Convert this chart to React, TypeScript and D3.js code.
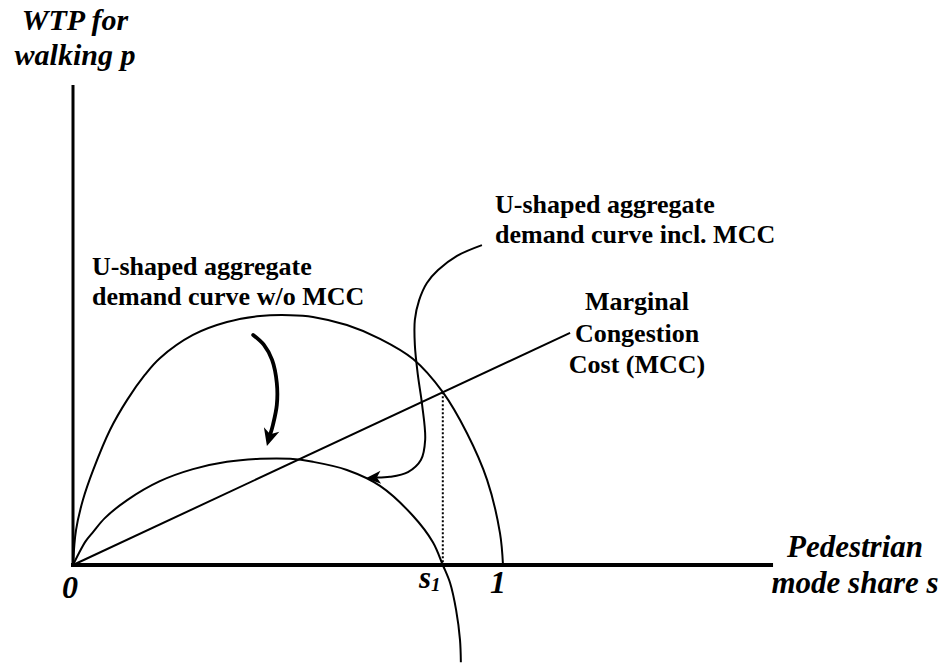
import React from "react";
import * as d3 from "d3";

// ---- Data (share s, WTP p) ----
const outerCurve: [number, number][] = [
  [0, 0], [0.007, 0.081], [0.023, 0.151], [0.047, 0.221], [0.086, 0.314],
  [0.126, 0.384], [0.167, 0.442], [0.202, 0.481], [0.279, 0.535], [0.358, 0.565],
  [0.435, 0.579], [0.505, 0.581], [0.558, 0.577], [0.637, 0.558], [0.714, 0.526],
  [0.791, 0.479], [0.86, 0.402], [0.916, 0.307], [0.963, 0.198], [0.993, 0.074],
  [1.0, 0],
];
const innerCurve: [number, number][] = [
  [0, 0], [0.014, 0.028], [0.03, 0.056], [0.047, 0.077], [0.074, 0.109],
  [0.126, 0.151], [0.202, 0.195], [0.279, 0.223], [0.358, 0.24], [0.435, 0.247],
  [0.505, 0.247], [0.558, 0.24], [0.637, 0.221], [0.714, 0.184], [0.791, 0.114],
  [0.837, 0.053], [0.86, 0], [0.877, -0.042], [0.891, -0.105], [0.9, -0.174],
  [0.902, -0.226],
];
const mccLine: [number, number][] = [[0, 0], [1.156, 0.54]];
const s1Value = 0.86;
const s1Wtp = 0.402;
const thickArrow: [number, number][] = [
  [0.419, 0.535], [0.444, 0.512], [0.463, 0.477], [0.474, 0.423],
  [0.474, 0.372], [0.465, 0.326], [0.451, 0.277],
];
const thinArrow: [number, number][] = [
  [0.951, 0.744], [0.893, 0.719], [0.849, 0.686], [0.823, 0.656], [0.805, 0.616],
  [0.795, 0.57], [0.795, 0.512], [0.802, 0.442], [0.812, 0.372], [0.819, 0.291],
  [0.809, 0.244], [0.779, 0.216], [0.737, 0.205], [0.681, 0.202],
];
const yAxisLabel = ["WTP for", "walking p"];
const xAxisLabel = ["Pedestrian", "mode share s"];
const labelWithout = ["U-shaped aggregate", "demand curve w/o MCC"];
const labelIncl = ["U-shaped aggregate", "demand curve incl. MCC"];
const labelMcc = ["Marginal", "Congestion", "Cost (MCC)"];

const W = 946, H = 669;
const x = d3.scaleLinear().domain([0, 1]).range([73, 503]);
const y = d3.scaleLinear().domain([0, 1]).range([565, 135]);

const serif = "'Liberation Serif', 'Times New Roman', serif";

function headAndPath(pts: [number, number][], len: number, halfW: number, notch: number) {
  const px = pts.map(([s, p]) => [x(s), y(p)] as [number, number]);
  const tip = px[px.length - 1];
  const prev = px[px.length - 2];
  const dx = tip[0] - prev[0], dy = tip[1] - prev[1];
  const L = Math.hypot(dx, dy);
  const ux = dx / L, uy = dy / L;
  const nx = -uy, ny = ux;
  const bx = tip[0] - ux * len, by = tip[1] - uy * len;
  const left = [bx + nx * halfW, by + ny * halfW];
  const right = [bx - nx * halfW, by - ny * halfW];
  const nt = [tip[0] - ux * (len - notch), tip[1] - uy * (len - notch)] as [number, number];
  const shaft = [...px.slice(0, -1), nt];
  const path = d3.line().curve(d3.curveCatmullRom.alpha(0.5))(shaft) || "";
  const poly = [tip, left, nt, right].map((q) => q.join(",")).join(" ");
  return { path, poly };
}

export default function App() {
  const curve = d3.line<[number, number]>()
    .x((d) => x(d[0]))
    .y((d) => y(d[1]))
    .curve(d3.curveCatmullRom.alpha(0.5));
  const straight = d3.line<[number, number]>().x((d) => x(d[0])).y((d) => y(d[1]));

  const thick = headAndPath(thickArrow, 17, 8, 5);
  const thin = headAndPath(thinArrow, 15, 6.5, 4);

  const x0 = x(0), y0 = y(0);
  const xEnd = x(1.628);
  const yTop = y(1.116);

  return (
    <svg width={W} height={H} style={{ position: "absolute", left: 0, top: 0, background: "#fff" }}>
      <rect width={W} height={H} fill="#fff" />
      {/* axes */}
      <line x1={x0} y1={yTop} x2={x0} y2={y0 + 2} stroke="#000" strokeWidth={3} />
      <line x1={x0 - 2} y1={y0} x2={xEnd} y2={y0} stroke="#000" strokeWidth={4} />

      {/* curves */}
      <path d={curve(outerCurve) || ""} fill="none" stroke="#000" strokeWidth={2} />
      <path d={curve(innerCurve) || ""} fill="none" stroke="#000" strokeWidth={2} />
      <path d={straight(mccLine) || ""} fill="none" stroke="#000" strokeWidth={2} />
      <line x1={x(s1Value)} y1={y(s1Wtp)} x2={x(s1Value)} y2={y0} stroke="#000" strokeWidth={2} strokeDasharray="2,2" />

      {/* arrows */}
      <path d={thick.path} fill="none" stroke="#000" strokeWidth={3.8} strokeLinecap="round" />
      <polygon points={thick.poly} fill="#000" />
      <path d={thin.path} fill="none" stroke="#000" strokeWidth={2} />
      <polygon points={thin.poly} fill="#000" />

      {/* axis labels */}
      <g fontFamily={serif} fontWeight="bold" fontStyle="italic" fontSize={30} textAnchor="middle">
        <text x={75} y={30}>{yAxisLabel[0]}</text>
        <text x={75} y={65}>{yAxisLabel[1]}</text>
      </g>
      <g fontFamily={serif} fontWeight="bold" fontStyle="italic" fontSize={31} textAnchor="middle">
        <text x={855} y={557}>{xAxisLabel[0]}</text>
        <text x={855} y={593}>{xAxisLabel[1]}</text>
      </g>
      <g fontFamily={serif} fontWeight="bold" fontStyle="italic" fontSize={32} textAnchor="middle">
        <text x={70} y={598}>0</text>
        <text x={498} y={593}>1</text>
      </g>
      <text x={419} y={588} fontFamily={serif} fontWeight="bold" fontStyle="italic" fontSize={31}>
        s
        <tspan fontSize={19} dy={3}>1</tspan>
      </text>

      {/* annotations */}
      <g fontFamily={serif} fontWeight="bold" fontSize={26}>
        <text x={92} y={275}>{labelWithout[0]}</text>
        <text x={92} y={305}>{labelWithout[1]}</text>
        <text x={495} y={213}>{labelIncl[0]}</text>
        <text x={495} y={243}>{labelIncl[1]}</text>
      </g>
      <g fontFamily={serif} fontWeight="bold" fontSize={26} textAnchor="middle">
        <text x={637} y={310}>{labelMcc[0]}</text>
        <text x={637} y={342}>{labelMcc[1]}</text>
        <text x={637} y={373}>{labelMcc[2]}</text>
      </g>
    </svg>
  );
}
